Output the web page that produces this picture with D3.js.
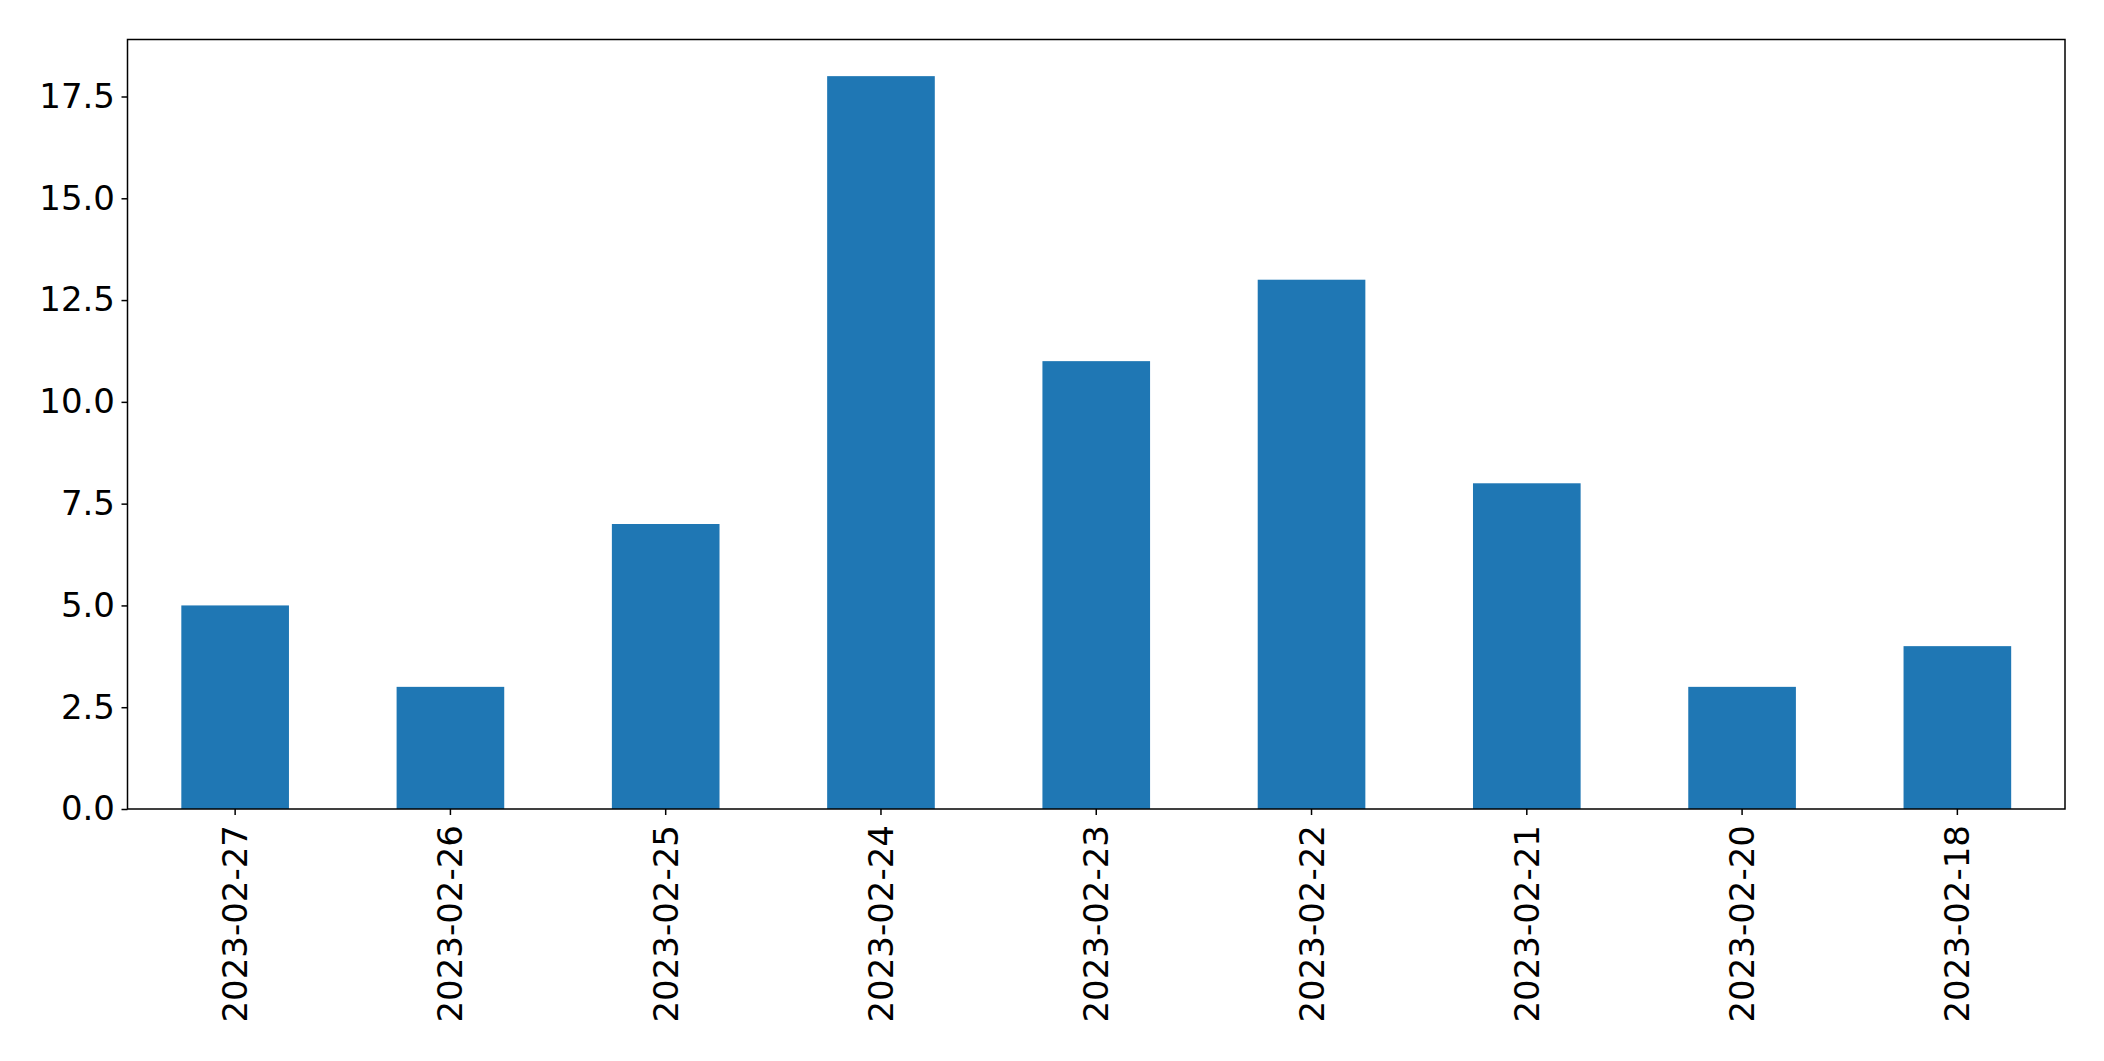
<!DOCTYPE html>
<html>
<head>
<meta charset="utf-8">
<script src="https://cdn.jsdelivr.net/npm/d3@7"></script>
<style>
  html, body { margin: 0; padding: 0; background: #fff; }
  svg { display: block; }
  text { font-family: "DejaVu Sans", sans-serif; fill: #000; }
</style>
</head>
<body>
<script>
const categories = ["2023-02-27","2023-02-26","2023-02-25","2023-02-24","2023-02-23","2023-02-22","2023-02-21","2023-02-20","2023-02-18"];
const values = [5, 3, 7, 18, 11, 13, 8, 3, 4];
const yTicks = [0, 2.5, 5, 7.5, 10, 12.5, 15, 17.5];

const W = 2104, H = 1061;
const m = { left: 127.5, right: W - 2065, top: 39.5, bottom: H - 809 };
const fontSize = 34;

const svg = d3.select("body").append("svg").attr("width", W).attr("height", H);

const x = d3.scaleBand().domain(categories).range([m.left, W - m.right]).paddingInner(0.5).paddingOuter(0.25);
const y = d3.scaleLinear().domain([0, d3.max(values) * 1.05]).range([H - m.bottom, m.top]);

svg.append("g").selectAll("rect").data(values).join("rect")
  .attr("x", (d, i) => x(categories[i]))
  .attr("width", x.bandwidth())
  .attr("y", d => y(d))
  .attr("height", d => y(0) - y(d))
  .attr("fill", "#1f77b4");

// frame
svg.append("rect")
  .attr("x", m.left).attr("y", m.top)
  .attr("width", W - m.right - m.left).attr("height", H - m.bottom - m.top)
  .attr("fill", "none").attr("stroke", "#000").attr("stroke-width", 1.5);

const yAxis = svg.append("g").attr("transform", `translate(${m.left},0)`)
  .call(d3.axisLeft(y).tickValues(yTicks).tickFormat(d3.format(".1f")).tickSize(6).tickPadding(6.5));
yAxis.select(".domain").remove();
yAxis.selectAll("line").attr("stroke", "#000").attr("stroke-width", 1.5);
yAxis.selectAll("text").attr("font-size", fontSize).attr("font-family", "DejaVu Sans").attr("fill", "#000");

const xAxis = svg.append("g").attr("transform", `translate(0,${H - m.bottom})`)
  .call(d3.axisBottom(x).tickSize(6).tickPadding(0));
xAxis.select(".domain").remove();
xAxis.selectAll("line").attr("stroke", "#000").attr("stroke-width", 1.5);
xAxis.selectAll("text")
  .attr("font-size", fontSize).attr("font-family", "DejaVu Sans").attr("fill", "#000")
  .attr("text-anchor", "end")
  .attr("dy", null)
  .attr("dominant-baseline", "central")
  .attr("transform", "translate(0,16) rotate(-90)")
  .attr("y", 0).attr("x", 0);
</script>
</body>
</html>
